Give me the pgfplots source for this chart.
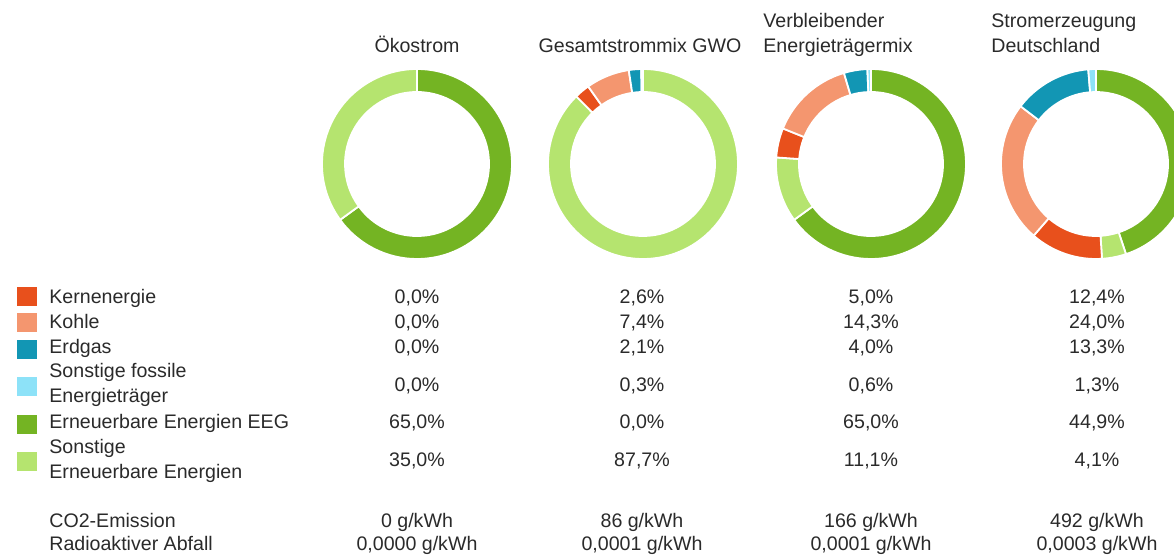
\documentclass[border=0pt]{standalone}
\usepackage{fontspec}
\setmainfont{Liberation Sans}
\usepackage{pgfplots}
\usepackage{pgfplotstable}
\pgfplotsset{compat=1.18}

\definecolor{cKern}{HTML}{E8501C}
\definecolor{cKohle}{HTML}{F4966F}
\definecolor{cGas}{HTML}{1296B4}
\definecolor{cFos}{HTML}{8DE2F8}
\definecolor{cEEG}{HTML}{74B423}
\definecolor{cSEE}{HTML}{B5E46F}
\definecolor{txt}{HTML}{2A2A2A}

% shares in percent, one column per chart
\pgfplotstableread{
source  oeko  gwo   rest  de
EEG     65.0  0.0   65.0  44.9
SonstEE 35.0  87.7  11.1  4.1
Kern    0.0   2.6   5.0   12.4
Kohle   0.0   7.4   14.3  24.0
Erdgas  0.0   2.1   4.0   13.3
Fossil  0.0   0.3   0.6   1.3
}\mix

% ring sector: cx, cy, cum start, cum end, colour (pixel coords, y down)
\newcommand\slice[5]{%
  \ifdim#4pt>#3pt
    \pgfmathsetmacro\aA{90-#3/\tot*360}%
    \pgfmathsetmacro\aB{90-#4/\tot*360}%
    \pgfmathsetmacro\xA{#1+95*cos(\aA)}%
    \pgfmathsetmacro\yA{#2-95*sin(\aA)}%
    \pgfmathsetmacro\xB{#1+72*cos(\aB)}%
    \pgfmathsetmacro\yB{#2-72*sin(\aB)}%
    \edef\tmp{\noexpand\fill[#5, draw=white, line width=0.9pt]
      (axis cs:\xA,\yA) arc[start angle=\aA, end angle=\aB, radius=47.5pt]
      -- (axis cs:\xB,\yB) arc[start angle=\aB, end angle=\aA, radius=36pt] -- cycle;}%
    \tmp
  \fi}
\newcommand\seg[4]{% column, row, cx, colour
  \pgfplotstablegetelem{#2}{#1}\of\mix
  \pgfmathsetmacro\nxt{\cum+\pgfplotsretval}%
  \slice{#3}{164}{\cum}{\nxt}{#4}%
  \let\cum\nxt}
\newcommand\addtot[2]{\pgfplotstablegetelem{#2}{#1}\of\mix
  \pgfmathsetmacro\tot{\tot+\pgfplotsretval}}
\newcommand\donut[2]{% column, cx
  \def\tot{0}%
  \addtot{#1}{0}\addtot{#1}{1}\addtot{#1}{2}\addtot{#1}{3}\addtot{#1}{4}\addtot{#1}{5}%
  \def\cum{0}%
  \seg{#1}{0}{#2}{cEEG}\seg{#1}{1}{#2}{cSEE}\seg{#1}{2}{#2}{cKern}%
  \seg{#1}{3}{#2}{cKohle}\seg{#1}{4}{#2}{cGas}\seg{#1}{5}{#2}{cFos}}

\newcommand\lab[4]{\node[anchor=#3] at (axis cs:#1,#2) {#4};}
\newcommand\vals[5]{% baseline y, four values
  \lab{417}{#1}{base}{#2}\lab{642}{#1}{base}{#3}%
  \lab{871}{#1}{base}{#4}\lab{1097}{#1}{base}{#5}}
\newcommand\key[3]{\fill[#1] (axis cs:17,#2) rectangle (axis cs:37,#3);}

\begin{document}
\begin{tikzpicture}[every node/.append style={font=\fontsize{9.8}{12}\selectfont, text=txt, inner sep=0pt}]
\begin{axis}[
    at={(0,0)}, anchor=south west,
    x=0.5pt, y=0.5pt, y dir=reverse,
    xmin=0, xmax=1174, ymin=0, ymax=555,
    hide axis, clip=true
    ]
\donut{oeko}{417}
\donut{gwo}{643}
\donut{rest}{871}
\donut{de}{1096}

% titles
\lab{417}{53}{base}{Ökostrom}
\lab{640}{53}{base}{Gesamtstrommix GWO}
\lab{763}{28}{base west}{Verbleibender}
\lab{763}{53}{base west}{Energieträgermix}
\lab{991}{28}{base west}{Stromerzeugung}
\lab{991}{53}{base west}{Deutschland}

% legend keys
\key{cKern}{287}{306}
\key{cKohle}{313}{332}
\key{cGas}{340}{359}
\key{cFos}{377}{396}
\key{cEEG}{415}{434}
\key{cSEE}{452}{471}

\lab{49}{304}{base west}{Kernenergie}
\lab{49}{329}{base west}{Kohle}
\lab{49}{354}{base west}{Erdgas}
\lab{49}{378}{base west}{Sonstige fossile}
\lab{49}{403}{base west}{Energieträger}
\lab{49}{429}{base west}{Erneuerbare Energien EEG}
\lab{49}{454}{base west}{Sonstige}
\lab{49}{479}{base west}{Erneuerbare Energien}

\vals{304}{0,0\%}{2,6\%}{5,0\%}{12,4\%}
\vals{329}{0,0\%}{7,4\%}{14,3\%}{24,0\%}
\vals{354}{0,0\%}{2,1\%}{4,0\%}{13,3\%}
\vals{392}{0,0\%}{0,3\%}{0,6\%}{1,3\%}
\vals{429}{65,0\%}{0,0\%}{65,0\%}{44,9\%}
\vals{467}{35,0\%}{87,7\%}{11,1\%}{4,1\%}

\lab{49}{528}{base west}{CO2-Emission}
\lab{49}{551}{base west}{Radioaktiver Abfall}
\vals{528}{0 g/kWh}{86 g/kWh}{166 g/kWh}{492 g/kWh}
\vals{551}{0,0000 g/kWh}{0,0001 g/kWh}{0,0001 g/kWh}{0,0003 g/kWh}
\end{axis}
\pgfresetboundingbox
\path (0,0) rectangle (587pt,277.5pt);
\end{tikzpicture}
\end{document}
